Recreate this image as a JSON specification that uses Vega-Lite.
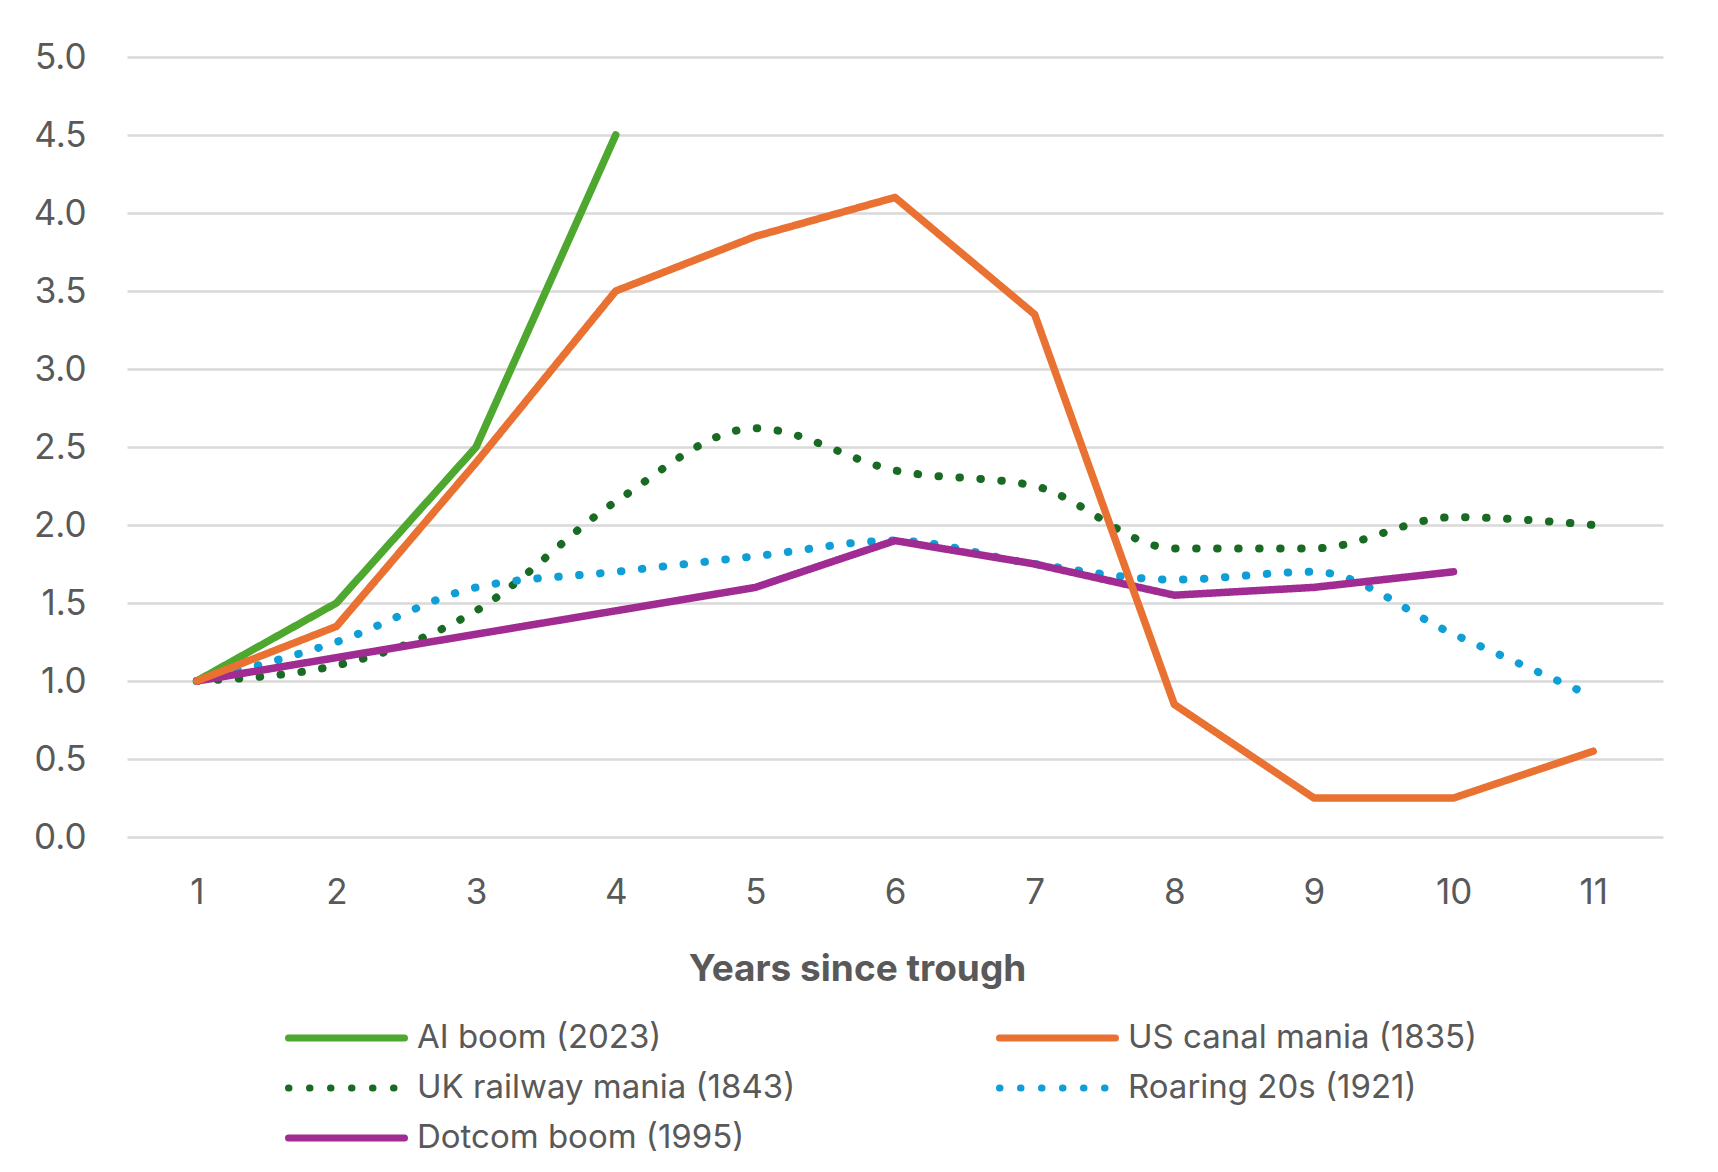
{
  "$schema": "https://vega.github.io/schema/vega-lite/v6.json",
  "width": 1536,
  "height": 780,
  "autosize": "none",
  "padding": {"left": 127, "top": 57, "right": 55, "bottom": 335},
  "background": "white",
  "config": {
    "view": {"stroke": null},
    "font": "Inter",
    "axis": {"labelFont": "Inter", "titleFont": "Inter", "labelColor": "#595959", "titleColor": "#595959"},
    "legend": {"labelFont": "Inter", "labelColor": "#595959"}
  },
  "data": {"values": [
    {"s": "AI boom (2023)", "x": 1, "y": 1.0},
    {"s": "AI boom (2023)", "x": 2, "y": 1.5},
    {"s": "AI boom (2023)", "x": 3, "y": 2.5},
    {"s": "AI boom (2023)", "x": 4, "y": 4.5},
    {"s": "Dotcom boom (1995)", "x": 1, "y": 1.0},
    {"s": "Dotcom boom (1995)", "x": 2, "y": 1.15},
    {"s": "Dotcom boom (1995)", "x": 3, "y": 1.3},
    {"s": "Dotcom boom (1995)", "x": 4, "y": 1.45},
    {"s": "Dotcom boom (1995)", "x": 5, "y": 1.6},
    {"s": "Dotcom boom (1995)", "x": 6, "y": 1.9},
    {"s": "Dotcom boom (1995)", "x": 7, "y": 1.75},
    {"s": "Dotcom boom (1995)", "x": 8, "y": 1.55},
    {"s": "Dotcom boom (1995)", "x": 9, "y": 1.6},
    {"s": "Dotcom boom (1995)", "x": 10, "y": 1.7},
    {"s": "US canal mania (1835)", "x": 1, "y": 1.0},
    {"s": "US canal mania (1835)", "x": 2, "y": 1.35},
    {"s": "US canal mania (1835)", "x": 3, "y": 2.4},
    {"s": "US canal mania (1835)", "x": 4, "y": 3.5},
    {"s": "US canal mania (1835)", "x": 5, "y": 3.85},
    {"s": "US canal mania (1835)", "x": 6, "y": 4.1},
    {"s": "US canal mania (1835)", "x": 7, "y": 3.35},
    {"s": "US canal mania (1835)", "x": 8, "y": 0.85},
    {"s": "US canal mania (1835)", "x": 9, "y": 0.25},
    {"s": "US canal mania (1835)", "x": 10, "y": 0.25},
    {"s": "US canal mania (1835)", "x": 11, "y": 0.55},
    {"s": "UK railway mania (1843)", "x": 1, "y": 1.0},
    {"s": "UK railway mania (1843)", "x": 2, "y": 1.1},
    {"s": "UK railway mania (1843)", "x": 3, "y": 1.45},
    {"s": "UK railway mania (1843)", "x": 4, "y": 2.15},
    {"s": "UK railway mania (1843)", "x": 5, "y": 2.62},
    {"s": "UK railway mania (1843)", "x": 6, "y": 2.35},
    {"s": "UK railway mania (1843)", "x": 7, "y": 2.25},
    {"s": "UK railway mania (1843)", "x": 8, "y": 1.85},
    {"s": "UK railway mania (1843)", "x": 9, "y": 1.85},
    {"s": "UK railway mania (1843)", "x": 10, "y": 2.05},
    {"s": "UK railway mania (1843)", "x": 11, "y": 2.0},
    {"s": "Roaring 20s (1921)", "x": 1, "y": 1.0},
    {"s": "Roaring 20s (1921)", "x": 2, "y": 1.25},
    {"s": "Roaring 20s (1921)", "x": 3, "y": 1.6},
    {"s": "Roaring 20s (1921)", "x": 4, "y": 1.7},
    {"s": "Roaring 20s (1921)", "x": 5, "y": 1.8},
    {"s": "Roaring 20s (1921)", "x": 6, "y": 1.9},
    {"s": "Roaring 20s (1921)", "x": 7, "y": 1.75},
    {"s": "Roaring 20s (1921)", "x": 8, "y": 1.65},
    {"s": "Roaring 20s (1921)", "x": 9, "y": 1.7},
    {"s": "Roaring 20s (1921)", "x": 10, "y": 1.3},
    {"s": "Roaring 20s (1921)", "x": 11, "y": 0.9}
  ]},
  "encoding": {
    "x": {
      "field": "x", "type": "ordinal",
      "scale": {"type": "point", "padding": 0.5},
      "axis": {
        "title": "Years since trough", "titleFontSize": 37, "titleFontWeight": "bold", "titlePadding": 41,
        "titleX": 730, "titleAlign": "center",
        "labelAngle": 0, "labelFontSize": 35, "labelPadding": 38,
        "ticks": false, "tickSize": 0, "domain": false, "grid": false
      }
    },
    "y": {
      "field": "y", "type": "quantitative",
      "scale": {"domain": [0, 5], "nice": false, "zero": true},
      "axis": {
        "title": null, "values": [0, 0.5, 1, 1.5, 2, 2.5, 3, 3.5, 4, 4.5, 5], "format": ".1f",
        "labelFontSize": 35, "labelPadding": 41, "ticks": false, "tickSize": 0, "domain": false,
        "grid": true, "gridColor": "#D9D9D9", "gridWidth": 2.5
      }
    },
    "color": {
      "field": "s", "type": "nominal",
      "scale": {
        "domain": ["AI boom (2023)", "US canal mania (1835)", "UK railway mania (1843)", "Roaring 20s (1921)", "Dotcom boom (1995)"],
        "range": ["#4EA72E", "#E97132", "#196B24", "#0F9ED5", "#A02B93"]
      },
      "legend": {
        "title": null, "orient": "none", "legendX": 158, "legendY": 956, "padding": 0, "columns": 2, "direction": "horizontal",
        "columnPadding": 200, "rowPadding": 0, "clipHeight": 50, "symbolType": "stroke", "symbolSize": 13456, "symbolStrokeWidth": 7,
        "labelFontSize": 33, "labelOffset": 9, "labelLimit": 600,
        "encode": {"symbols": {"update": {"strokeCap": {"value": "round"}}}}
      }
    },
    "strokeDash": {
      "field": "s", "type": "nominal",
      "scale": {
        "domain": ["AI boom (2023)", "US canal mania (1835)", "UK railway mania (1843)", "Roaring 20s (1921)", "Dotcom boom (1995)"],
        "range": [[1, 0], [1, 0], [0.5, 20.5], [0.5, 20.5], [1, 0]]
      },
      "legend": null
    }
  },
  "layer": [
    {
      "transform": [{"filter": "datum.s === 'UK railway mania (1843)' || datum.s === 'Roaring 20s (1921)'"}],
      "mark": {"type": "line", "strokeWidth": 8, "strokeCap": "round", "interpolate": "monotone"}
    },
    {
      "transform": [{"filter": "datum.s !== 'UK railway mania (1843)' && datum.s !== 'Roaring 20s (1921)'"}],
      "mark": {"type": "line", "strokeWidth": 7.5, "strokeCap": "round", "strokeJoin": "round"}
    }
  ]
}
